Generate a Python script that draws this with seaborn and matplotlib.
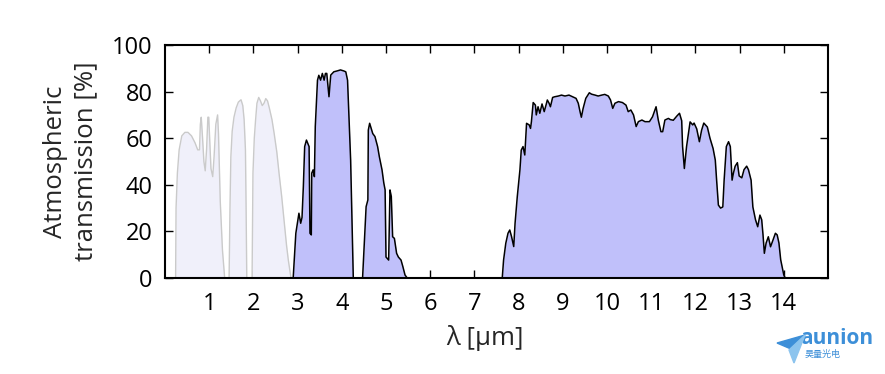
import matplotlib
matplotlib.use("Agg")
import matplotlib.pyplot as plt
from matplotlib.patches import Polygon
import seaborn as sns

# light bands (visible / near infrared)
band_a_um = [0.24, 0.25, 0.28, 0.32, 0.38, 0.45, 0.52, 0.60, 0.68, 0.74, 0.78, 0.80, 0.82, 0.85,
             0.88, 0.91, 0.94, 0.97, 0.99, 1.01, 1.04, 1.08, 1.11, 1.15, 1.19, 1.21, 1.25, 1.30, 1.35]
band_a_pct = [0, 30, 45, 55, 61, 62.5, 62.5, 61, 58, 55, 55, 66, 69, 60,
              50, 46, 55, 69, 69, 60, 47, 43.5, 52, 66, 70, 62, 33, 12, 0]
band_b_um = [1.45, 1.47, 1.49, 1.52, 1.56, 1.61, 1.66, 1.72, 1.76, 1.79, 1.82, 1.835, 1.85]
band_b_pct = [0, 30, 52, 63, 69, 73, 75.5, 76.5, 74, 68, 55, 30, 0]
band_c_um = [1.97, 1.99, 2.02, 2.05, 2.08, 2.12, 2.16, 2.20, 2.24, 2.28, 2.32, 2.36, 2.42,
             2.47, 2.53, 2.58, 2.64, 2.70, 2.75, 2.79, 2.85]
band_c_pct = [0, 45, 60, 68, 75, 77.5, 76, 74, 75, 77, 76, 73, 68,
              62, 54, 45, 35, 23.5, 14, 7.7, 0]

# mid infrared window
band_d_um = [2.90, 2.96, 3.03, 3.07, 3.10, 3.13, 3.16, 3.20, 3.26, 3.28, 3.31, 3.32, 3.35, 3.38,
             3.40, 3.45, 3.48, 3.52, 3.56, 3.60, 3.63, 3.66, 3.71, 3.75, 3.82, 3.90, 3.97,
             4.04, 4.09, 4.13, 4.20, 4.26]
band_d_pct = [0, 19.2, 27.8, 23.5, 26, 39.2, 56.4, 59.2, 56.4, 19.2, 18.5, 45, 46.4, 43.5,
              65, 84.9, 87, 84.9, 87.8, 84.9, 87.8, 87.8, 77.8, 87.1, 88.5, 88.9, 89.3,
              88.9, 88.5, 84.9, 50.6, 0]
band_e_um = [4.47, 4.55, 4.59, 4.60, 4.63, 4.70, 4.75, 4.81, 4.85, 4.91, 4.95, 4.98, 5.00, 5.06,
             5.09, 5.12, 5.15, 5.19, 5.24, 5.28, 5.34, 5.38, 5.43, 5.48]
band_e_pct = [0, 30.6, 33.5, 63.5, 66.4, 62, 60.7, 56.4, 52, 46.4, 40.8, 37.8, 9, 7.7,
              37.8, 35, 17.7, 17, 10.6, 9, 7.7, 5, 1.3, 0]

# long wave infrared window
band_f_um = [7.63, 7.66, 7.71, 7.76, 7.80, 7.84, 7.89, 7.92, 7.97, 8.03, 8.06, 8.10, 8.14, 8.18,
             8.24, 8.27, 8.29, 8.33, 8.38, 8.40, 8.44, 8.48, 8.53, 8.58, 8.62, 8.65, 8.69, 8.72,
             8.77, 8.82, 8.90, 8.97, 9.05, 9.14, 9.22, 9.30, 9.35, 9.39, 9.42, 9.46, 9.52, 9.60,
             9.65, 9.73, 9.80, 9.88, 9.95, 10.03, 10.08, 10.13, 10.18, 10.26, 10.35, 10.43, 10.48,
             10.54, 10.60, 10.66, 10.71, 10.79, 10.86, 10.96, 11.03, 11.11, 11.16, 11.22, 11.26,
             11.31, 11.39, 11.43, 11.50, 11.58, 11.64, 11.69, 11.71, 11.75, 11.80, 11.88, 11.94,
             11.97, 12.03, 12.09, 12.14, 12.19, 12.27, 12.33, 12.40, 12.45, 12.48, 12.52, 12.57,
             12.62, 12.65, 12.70, 12.75, 12.79, 12.83, 12.86, 12.90, 12.95, 12.99, 13.05, 13.10,
             13.16, 13.20, 13.26, 13.30, 13.36, 13.41, 13.46, 13.50, 13.53, 13.56, 13.60, 13.65,
             13.70, 13.75, 13.81, 13.85, 13.89, 13.93, 14.00, 14.03]
band_f_pct = [0, 7.7, 14.9, 19.2, 20.6, 17.8, 13.5, 23.5, 34.9, 46.4, 54.9, 56.4, 52.8, 66.4,
              65.7, 64.2, 67.1, 75.3, 74.2, 70, 73.5, 70.7, 74.7, 71.4, 74.2, 76.4, 75, 73.5,
              77.5, 77.8, 78.1, 78.5, 78.1, 78.5, 77.8, 77.1, 75, 71.4, 69, 72.8, 77.1, 79.5,
              78.9, 78.5, 78.1, 78.5, 78.8, 78.1, 76.4, 72.8, 75, 75.7, 75.3, 74.2, 71.4,
              72.1, 70, 65, 67.1, 67.8, 67.1, 67.1, 69.2, 73.5, 67.8, 62.8, 62.8,
              67.8, 68.5, 68, 67.7, 69.5, 70.7, 67.5, 56.4, 47, 56.4, 67, 65.7,
              66.5, 64, 58.5, 63.4, 66.5, 64.8, 60, 55.6, 50.6, 42, 31.3, 30,
              30.5, 42, 56.4, 58.5, 56.4, 42, 45, 48, 49.5, 43.8, 43, 46.5,
              48, 46.5, 42, 30.5, 25, 22, 27, 25, 18.5, 10.6, 15, 17.7,
              13.4, 16, 19.2, 18.5, 15, 7.8, 1.3, 0]

light_bands = [(band_a_um, band_a_pct), (band_b_um, band_b_pct), (band_c_um, band_c_pct)]
ir_bands = [(band_d_um, band_d_pct), (band_e_um, band_e_pct), (band_f_um, band_f_pct)]

x_ticks = list(range(1, 15))
y_ticks = [0, 20, 40, 60, 80, 100]

sns.set_theme(style="ticks")
plt.rcParams["font.family"] = ["Open Sans", "DejaVu Sans"]

fig = plt.figure(figsize=(8.85, 3.74), dpi=100)
ax = fig.add_axes([165 / 885, 1 - 278 / 374, 663 / 885, 233 / 374])

for um, pct in light_bands:
    ax.fill_between(um, pct, color="#f0f0fa", lw=0, zorder=1)
    sns.lineplot(x=um, y=pct, ax=ax, color="#cacaca", lw=1, estimator=None, zorder=2)

for um, pct in ir_bands:
    ax.fill_between(um, pct, color="#c0c0fa", lw=0, zorder=1)
    sns.lineplot(x=um, y=pct, ax=ax, color="black", lw=1.1, estimator=None, zorder=2)

ax.set_xlim(0, 15)
ax.set_ylim(0, 100)
ax.set_xticks(x_ticks)
ax.set_yticks(y_ticks)
ax.tick_params(direction="in", top=True, right=True, length=6, width=1,
               labelsize=17, colors="black")
ax.tick_params(axis="x", pad=10)
ax.tick_params(axis="y", pad=9)
for s in ax.spines.values():
    s.set_linewidth(1.5)
    s.set_color("black")

ax.set_xlabel("λ [µm]", fontsize=18.5)
ax.xaxis.set_label_coords(0.483, -0.2)
ax.set_ylabel("Atmospheric\ntransmission [%]", fontsize=18.5, linespacing=1.3)
ax.yaxis.set_label_coords(-0.1, 0.5)

# watermark
fig.patches.append(Polygon([(805 / 885, 1 - 335 / 374), (777 / 885, 1 - 343 / 374),
                            (791 / 885, 1 - 349 / 374)], closed=True,
                           transform=fig.transFigure, color="#3d8fd8", zorder=5))
fig.patches.append(Polygon([(805 / 885, 1 - 335 / 374), (789 / 885, 1 - 350 / 374),
                            (794 / 885, 1 - 363 / 374)], closed=True,
                           transform=fig.transFigure, color="#8cc4ee", zorder=5))
fig.text(837 / 885, 1 - 338 / 374, "aunion", fontsize=15, fontweight="bold",
         color="#3d8fd8", ha="center", va="center")
fig.text(823 / 885, 1 - 354 / 374, "昊量光电", fontsize=6.5, color="#3d8fd8",
         ha="center", va="center", family=["Noto Sans CJK SC", "DejaVu Sans"])

fig.savefig("out.png", dpi=100)
